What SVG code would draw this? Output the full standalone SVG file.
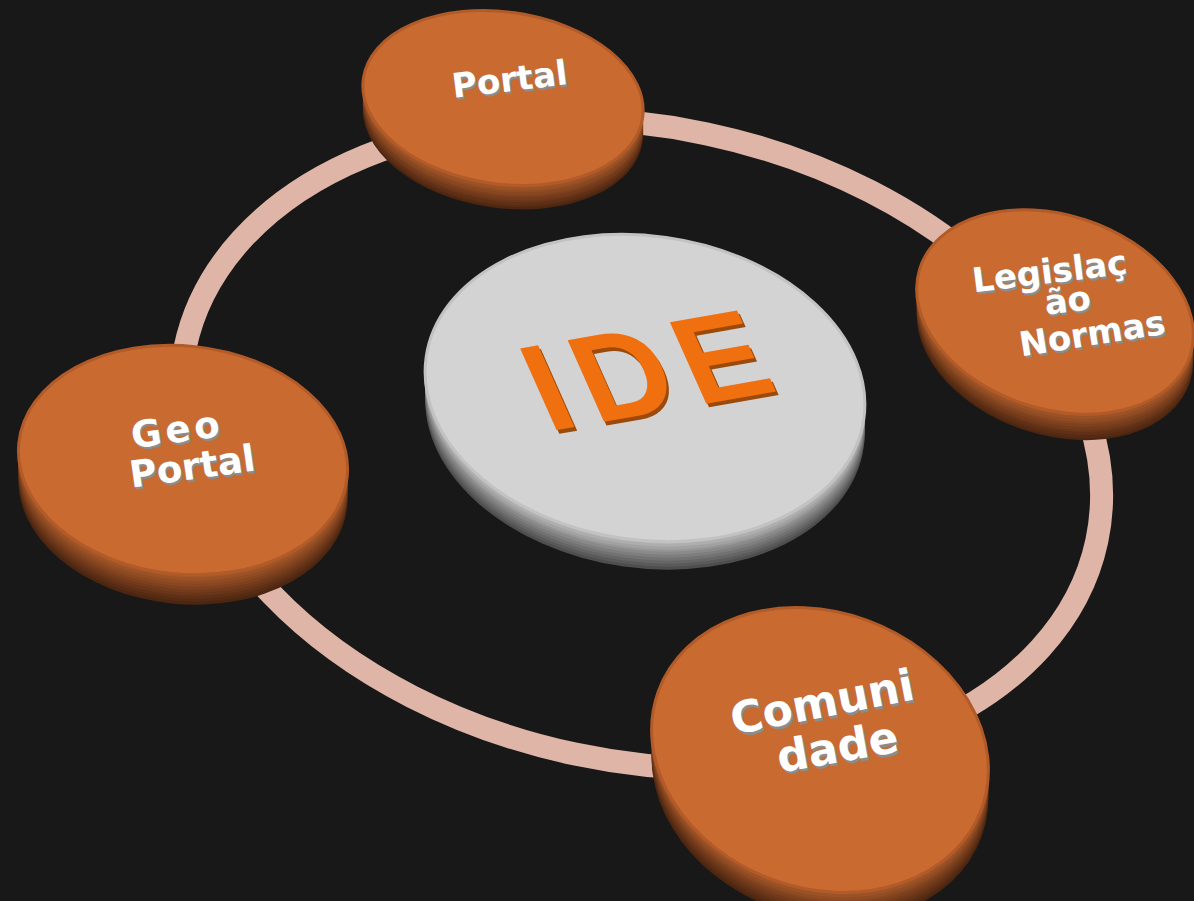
<svg xmlns="http://www.w3.org/2000/svg" xmlns:xlink="http://www.w3.org/1999/xlink" width="1194" height="901" viewBox="0 0 1194 901">
<style>
.bg{fill:#181818}
.ring{fill:none;stroke:#dfb5a7;stroke-width:23}
.topO{fill:#c96b31;stroke:#b35b28;stroke-width:3}
.topG{fill:#d3d3d3;stroke:#c2c2c2;stroke-width:3}
.lbl{font-family:"DejaVu Sans","Liberation Sans",sans-serif;font-weight:bold;text-anchor:middle}
.sh{fill:#8c8c8c}
.fg{fill:#ffffff}
.ide{font-family:"Liberation Sans","DejaVu Sans",sans-serif;font-weight:bold;text-anchor:middle;font-size:126px;letter-spacing:13px}
.o1{fill:#4c2611}.o2{fill:#552b13}.o3{fill:#5f3016}.o4{fill:#693619}.o5{fill:#733b1b}.o6{fill:#7d411e}.o7{fill:#874721}.o8{fill:#914c23}.o9{fill:#9b5226}.o10{fill:#a55828}
.g1{fill:#4e4e4e}.g2{fill:#5a5a5a}.g3{fill:#666666}.g4{fill:#727272}.g5{fill:#7e7e7e}.g6{fill:#8a8a8a}.g7{fill:#969696}.g8{fill:#a2a2a2}.g9{fill:#aeaeae}.g10{fill:#bababa}
</style>
<defs>
<ellipse id="sPortal" rx="141" ry="86" transform="rotate(8)"/>
<ellipse id="sLeg" rx="142" ry="97" transform="rotate(18)"/>
<ellipse id="sIde" rx="221" ry="152" transform="rotate(8)"/>
<ellipse id="sGeo" rx="165" ry="114" transform="rotate(6)"/>
<ellipse id="sCom" rx="172" ry="138" transform="rotate(20)"/>
</defs>
<rect class="bg" x="0" y="0" width="1194" height="901"/>
<g id="connectors">
<ellipse class="ring" cx="0" cy="0" rx="466" ry="317" transform="translate(641,444) rotate(12)"/>
</g>
<g id="n-portal" transform="translate(503,98)">
<use xlink:href="#sPortal" y="24" class="o1"/><use xlink:href="#sPortal" y="22" class="o2"/><use xlink:href="#sPortal" y="20" class="o3"/><use xlink:href="#sPortal" y="17" class="o4"/><use xlink:href="#sPortal" y="15" class="o5"/><use xlink:href="#sPortal" y="12" class="o6"/><use xlink:href="#sPortal" y="10" class="o7"/><use xlink:href="#sPortal" y="7" class="o8"/><use xlink:href="#sPortal" y="5" class="o9"/><use xlink:href="#sPortal" y="2" class="o10"/>
<use xlink:href="#sPortal" class="topO"/>
<g class="lbl" font-size="34" transform="translate(8,-7) rotate(-7)">
<text class="sh" x="1.5" y="2.5">Portal</text>
<text class="fg" x="0" y="0">Portal</text>
</g>
</g>
<g id="n-legislacao" transform="translate(1055,312)">
<use xlink:href="#sLeg" y="26" class="o1"/><use xlink:href="#sLeg" y="24" class="o2"/><use xlink:href="#sLeg" y="21" class="o3"/><use xlink:href="#sLeg" y="18" class="o4"/><use xlink:href="#sLeg" y="16" class="o5"/><use xlink:href="#sLeg" y="13" class="o6"/><use xlink:href="#sLeg" y="10" class="o7"/><use xlink:href="#sLeg" y="8" class="o8"/><use xlink:href="#sLeg" y="5" class="o9"/><use xlink:href="#sLeg" y="2" class="o10"/>
<use xlink:href="#sLeg" class="topO"/>
<g class="lbl" font-size="34">
<g transform="translate(-4,-29) rotate(-7)"><text class="sh" x="1.5" y="2.5">Legislaç</text><text class="fg">Legislaç</text></g>
<g transform="translate(14,0) rotate(-7)"><text class="sh" x="1.5" y="2.5">ão</text><text class="fg">ão</text></g>
<g transform="translate(39,33) rotate(-9)"><text class="sh" x="1.5" y="2.5">Normas</text><text class="fg">Normas</text></g>
</g>
</g>
<g id="n-ide" transform="translate(645,388)">
<use xlink:href="#sIde" y="28" class="g1"/><use xlink:href="#sIde" y="25" class="g2"/><use xlink:href="#sIde" y="22" class="g3"/><use xlink:href="#sIde" y="19" class="g4"/><use xlink:href="#sIde" y="16" class="g5"/><use xlink:href="#sIde" y="13" class="g6"/><use xlink:href="#sIde" y="10" class="g7"/><use xlink:href="#sIde" y="8" class="g8"/><use xlink:href="#sIde" y="5" class="g9"/><use xlink:href="#sIde" y="2" class="g10"/>
<use xlink:href="#sIde" class="topG"/>
<g transform="translate(26,22) rotate(-10) skewX(14)">
<text class="ide" x="1" y="4" fill="#9c4a0a">IDE</text>
<text class="ide" x="0" y="0" fill="#f07010">IDE</text>
</g>
</g>
<g id="n-geoportal" transform="translate(183,460)">
<use xlink:href="#sGeo" y="30" class="o1"/><use xlink:href="#sGeo" y="27" class="o2"/><use xlink:href="#sGeo" y="24" class="o3"/><use xlink:href="#sGeo" y="21" class="o4"/><use xlink:href="#sGeo" y="18" class="o5"/><use xlink:href="#sGeo" y="15" class="o6"/><use xlink:href="#sGeo" y="12" class="o7"/><use xlink:href="#sGeo" y="9" class="o8"/><use xlink:href="#sGeo" y="6" class="o9"/><use xlink:href="#sGeo" y="3" class="o10"/>
<use xlink:href="#sGeo" class="topO"/>
<g class="lbl" font-size="37">
<g transform="translate(-4,-18) rotate(-8)"><text class="sh" x="1.5" y="2.5" letter-spacing="4">Geo</text><text class="fg" letter-spacing="4">Geo</text></g>
<g transform="translate(11,19) rotate(-8)"><text class="sh" x="1.5" y="2.5">Portal</text><text class="fg">Portal</text></g>
</g>
</g>
<g id="n-comunidade" transform="translate(820,750)">
<use xlink:href="#sCom" y="28" class="o1"/><use xlink:href="#sCom" y="25" class="o2"/><use xlink:href="#sCom" y="22" class="o3"/><use xlink:href="#sCom" y="19" class="o4"/><use xlink:href="#sCom" y="16" class="o5"/><use xlink:href="#sCom" y="13" class="o6"/><use xlink:href="#sCom" y="10" class="o7"/><use xlink:href="#sCom" y="8" class="o8"/><use xlink:href="#sCom" y="5" class="o9"/><use xlink:href="#sCom" y="2" class="o10"/>
<use xlink:href="#sCom" class="topO"/>
<g class="lbl" font-size="44">
<g transform="translate(5,-33) rotate(-11)"><text class="sh" x="1.5" y="3">Comuni</text><text class="fg">Comuni</text></g>
<g transform="translate(20,12) rotate(-10)"><text class="sh" x="1.5" y="3">dade</text><text class="fg">dade</text></g>
</g>
</g>
</svg>
